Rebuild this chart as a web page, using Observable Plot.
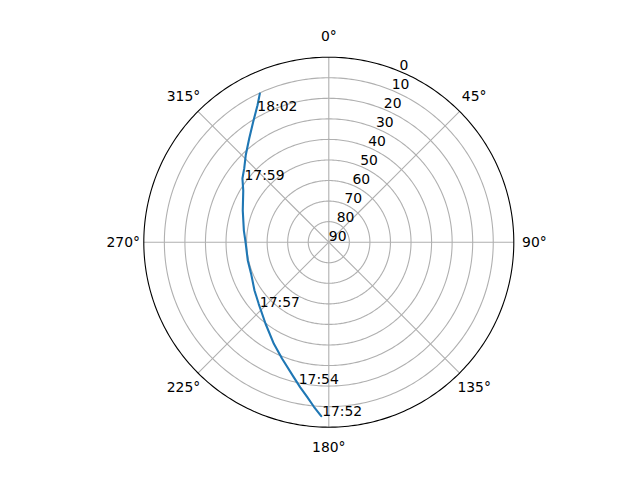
<!DOCTYPE html>
<html>
<head>
<meta charset="utf-8">
<script src="https://cdn.jsdelivr.net/npm/d3@7"></script>
<script src="https://cdn.jsdelivr.net/npm/@observablehq/plot@0.6"></script>
<style>
  html, body { margin: 0; padding: 0; background: white; }
</style>
</head>
<body>
<div id="chart"></div>
<script>
// Satellite pass: azimuth (deg, clockwise from north) and elevation (deg)
const azimuth   = [182.5, 187.9, 194.5, 201.8, 208.4, 217.8, 228.7, 237.0, 247.8, 257.3, 270.0, 277.8, 290.2, 301.1, 306.4, 311.1, 316.3, 322.5, 327.9, 332.5, 335.1];
const elevation = [5.3,   13.9,  22.1,  28.9,  33.8,  39.8,  44.6,  46.9,  49.2,  49.6,  49.5,  48.3,  45.4,  41.4,  37.8,  35.4,  31.5,  26.4,  20.8,  14.9,  10.3];

// Time annotations
const labelTimes = ["17:52", "17:54", "17:57", "17:59", "18:02"];
const labelAz    = [182.2, 192.0, 226.7, 306.6, 331.5];
const labelEl    = [5.6, 19.6, 43.9, 38.9, 17.1];

// Axis ticks
const angleTicks = [0, 45, 90, 135, 180, 225, 270, 315];
const radialTicks = [0, 10, 20, 30, 40, 50, 60, 70, 80, 90];
const rlabelAngle = 22.5;

// azimuth (clockwise from top) -> longitude for a pole-centred azimuthal-equidistant projection
const lonOf = (az) => 180 - az;

const path = azimuth.map((a, i) => ({lon: lonOf(a), lat: elevation[i]}));
const timeLabels = labelTimes.map((t, i) => ({text: t, lon: lonOf(labelAz[i]), lat: labelEl[i]}));
const rings = radialTicks.filter(e => e > 0 && e < 90)
  .map(e => d3.geoCircle().center([0, 90]).radius(90 - e).precision(1)());
const outer = d3.geoCircle().center([0, 90]).radius(90).precision(1)();

const gridColor = "#b0b0b0";
const font = "DejaVu Sans";

const chart = Plot.plot({
  width: 640,
  height: 480,
  marginLeft: 143.3,
  marginRight: 126.7,
  marginTop: 56.7,
  marginBottom: 53.3,
  style: {fontFamily: font, fontSize: "13.9px", background: "white", color: "black"},
  projection: {
    type: "azimuthal-equidistant",
    rotate: [0, -90],
    domain: outer,
    inset: 0,
    clip: false
  },
  marks: [
    Plot.geo(rings, {stroke: gridColor, strokeWidth: 1.1, fill: "none"}),
    Plot.link(angleTicks, {
      x1: a => lonOf(a), y1: 90, x2: a => lonOf(a), y2: 0,
      stroke: gridColor, strokeWidth: 1.1
    }),
    Plot.geo([outer], {stroke: "black", strokeWidth: 1.1, fill: "none"}),
    Plot.text(angleTicks, {
      x: a => lonOf(a), y: -10, text: a => `${a}°`,
      textAnchor: "middle", lineAnchor: "middle", fontSize: 13.9
    }),
    Plot.text(radialTicks, {
      x: lonOf(rlabelAngle), y: r => r, text: r => String(r),
      textAnchor: "start", lineAnchor: "bottom", dy: -1.5, fontSize: 13.9
    }),
    Plot.line(path, {x: "lon", y: "lat", stroke: "#1f77b4", strokeWidth: 2.1}),
    Plot.text(timeLabels, {
      x: "lon", y: "lat", text: "text",
      textAnchor: "start", lineAnchor: "bottom", fontSize: 13.9
    })
  ]
});
document.getElementById("chart").appendChild(chart);
</script>
</body>
</html>
